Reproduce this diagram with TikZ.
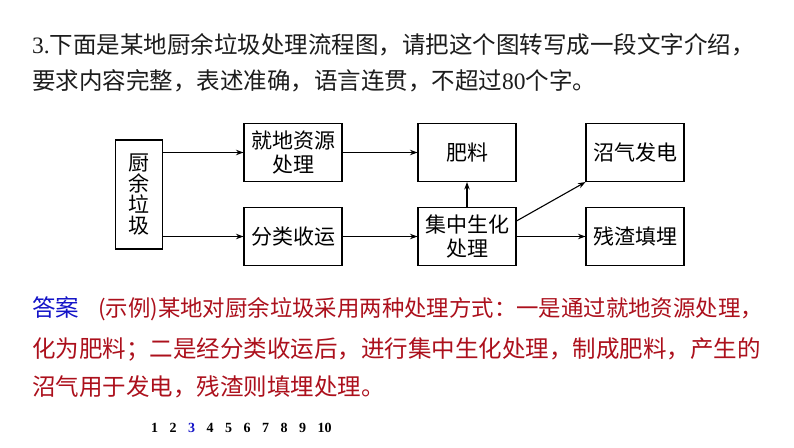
\documentclass[tikz,border=0pt]{standalone}
\usepackage{fontspec}
\setmainfont{Noto Sans CJK SC}
\newfontfamily\numfont{Liberation Serif}
\usetikzlibrary{arrows.meta,positioning}
\definecolor{ansblue}{RGB}{20,20,200}
\definecolor{ansred}{RGB}{172,16,28}
\definecolor{inkgray}{RGB}{28,28,28}

\begin{document}
\begin{tikzpicture}[
  x=1pt, y=-1pt,
  font=\fontsize{21}{24}\selectfont,
  box/.style={draw, line width=1.1pt, align=center, inner sep=0pt, minimum width=98pt, minimum height=58pt},
  tallbox/.style={box, minimum width=47pt, minimum height=109pt, font=\fontsize{21}{21}\selectfont},
  arrow/.style={-{Stealth[length=7.5pt,width=5.5pt]}, line width=1.1pt},
  textline/.style={anchor=west, inner sep=0pt, font=\fontsize{23.5}{28}\selectfont}
]
\useasboundingbox[fill=white] (0,0) rectangle (794,447);

% question
\node[textline, text=inkgray] (q1) at (32,45) {{\numfont 3.}下面是某地厨余垃圾处理流程图，请把这个图转写成一段文字介绍，};
\node[textline, text=inkgray] (q2) at (32,81) {要求内容完整，表述准确，语言连贯，不超过{\numfont 80}个字。};

% flow chart
\node[tallbox] (waste) at (138.8,194.5) {厨\\余\\垃\\圾};
\node[box] (local) at (293,152.5) {就地资源\\处理};
\node[box] (sort) at (293,236.5) {分类收运};
\node[box] (fert) at (467,152.5) {肥料};
\node[box] (central) at (467,236.5) {集中生化\\处理};
\node[box] (biogas) at (635,152.5) {沼气发电};
\node[box] (residue) at (635,236.5) {残渣填埋};

\draw[arrow] (waste.east |- local.west) -- (local.west);
\draw[arrow] (waste.east |- sort.west) -- (sort.west);
\draw[arrow] (local) -- (fert);
\draw[arrow] (sort) -- (central);
\draw[arrow] (central) -- (fert);
\draw[arrow] ([yshift=-14pt]central.north east) -- (biogas.south west);
\draw[arrow] (central) -- (residue);

% answer
\node[textline] (a1) at (32,309) {\textcolor{ansblue}{答案}\hspace{19pt}\textcolor{ansred}{\fontsize{22.4}{28}\selectfont(示例)某地对厨余垃圾采用两种处理方式：一是通过就地资源处理，}};
\node[textline, text=ansred] (a2) at (32,349) {化为肥料；二是经分类收运后，进行集中生化处理，制成肥料，产生的};
\node[textline, text=ansred] (a3) at (32,387) {沼气用于发电，残渣则填埋处理。};

% pages
\node[anchor=west, inner sep=0pt, font=\numfont\bfseries\fontsize{14}{16}\selectfont] (pages) at (151,428)
  {1\hspace{11.5pt}2\hspace{11.5pt}\textcolor{ansblue}{3}\hspace{11.5pt}4\hspace{11.5pt}5\hspace{11.5pt}6\hspace{11.5pt}7\hspace{11.5pt}8\hspace{11.5pt}9\hspace{11.5pt}10};
\end{tikzpicture}
\end{document}
